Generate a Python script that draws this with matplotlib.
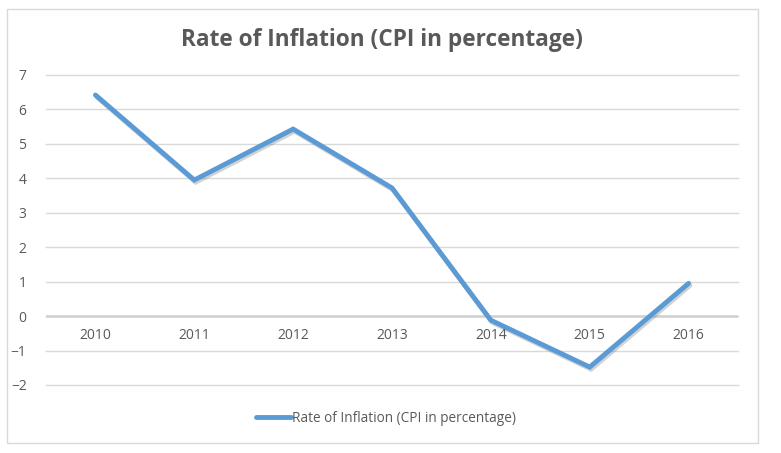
import numpy as np
import matplotlib
matplotlib.use('Agg')
from matplotlib import pyplot as plt
from matplotlib import patheffects as pe
from matplotlib.patches import Rectangle

# 数据
years = ['2010', '2011', '2012', '2013', '2014', '2015', '2016']
inflation = [6.42, 3.95, 5.43, 3.72, -0.12, -1.48, 0.95]
series_name = 'Rate of Inflation (CPI in percentage)'
title = 'Rate of Inflation (CPI in percentage)'

plt.rcParams['font.family'] = ['Open Sans', 'DejaVu Sans']
txt_color = '#595959'

fig = plt.figure(figsize=(7.81, 4.53), dpi=100)
W, H = 781, 453

# 图表外框
fig.patches.append(Rectangle((7 / W, 1 - 443 / H), 751 / W, 434 / H,
                             transform=fig.transFigure, fill=False,
                             edgecolor='#d9d9d9', linewidth=1))

ax = fig.add_axes([46 / W, 1 - 385 / H, (738 - 46) / W, (385 - 75) / H])

x = np.arange(len(years))
line, = ax.plot(x, inflation, color='#5b9bd5', linewidth=3.5,
                solid_capstyle='round', solid_joinstyle='miter',
                label=series_name, zorder=3)
line.set_path_effects([pe.SimpleLineShadow(offset=(1.0, -1.5), shadow_color='#7f7f7f', alpha=0.35),
                       pe.Normal()])

ax.set_xlim(-0.5, len(years) - 0.5)
ax.set_ylim(-2, 7)
ax.set_yticks(range(-2, 8))
ax.set_xticks([])
# 网格线
for yv in range(-2, 8):
    ax.axhline(yv, color='#d9d9d9', linewidth=1, zorder=1, clip_on=False)
ax.axhline(0, color='#d0d0d0', linewidth=1.8, zorder=1)
for s in ax.spines.values():
    s.set_visible(False)
ax.tick_params(axis='both', length=0, colors=txt_color, labelsize=10)
ax.tick_params(axis='y', pad=14)

# x 轴标签位于 0 线下方
for xi, yr in zip(x, years):
    ax.text(xi, -0.35, yr, ha='center', va='top', fontsize=10, color=txt_color)

fig.text(382 / W, 1 - 40 / H, title, ha='center', va='center', fontsize=16.3,
         fontweight='bold', color=txt_color)

leg = fig.legend(handles=[line], loc='center', bbox_to_anchor=(386 / W, 1 - 418 / H),
                 frameon=False, fontsize=9.8, handlelength=2.6, handletextpad=0.1)
for t in leg.get_texts():
    t.set_color(txt_color)
leg.get_lines()[0].set_path_effects([])

plt.savefig('out.png', dpi=100)
